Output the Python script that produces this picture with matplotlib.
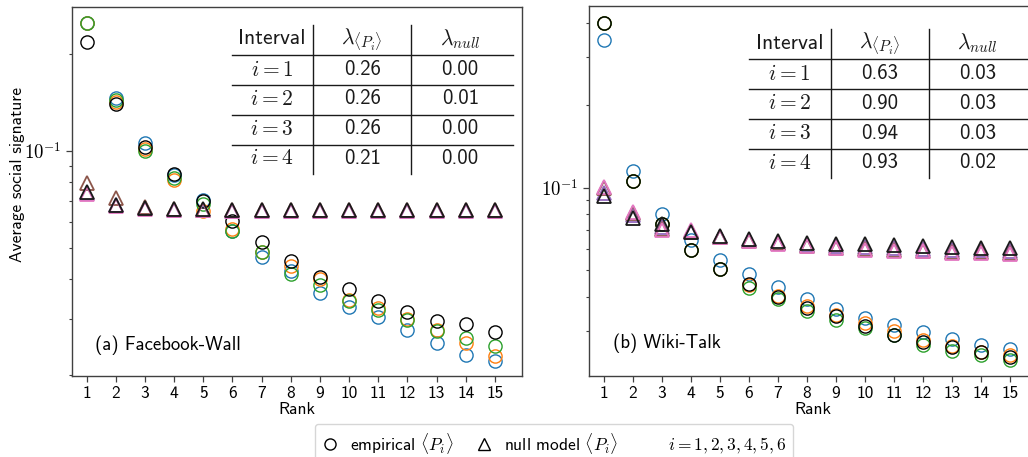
import matplotlib
matplotlib.use("Agg")
import matplotlib.pyplot as plt
from matplotlib.lines import Line2D
from matplotlib.ticker import LogLocator, NullFormatter, FuncFormatter
import numpy as np

plt.rcParams['font.family'] = ['cmss10', 'DejaVu Sans']
plt.rcParams['mathtext.fontset'] = 'cm'
plt.rcParams['axes.unicode_minus'] = False
plt.rcParams['axes.formatter.use_mathtext'] = True

ranks = list(range(1, 16))

# Facebook-Wall empirical <P_i>
fb_emp_1 = [0.250, 0.1458, 0.1059, 0.0839, 0.0706, 0.0564, 0.0467, 0.0424, 0.0361, 0.0327, 0.0304, 0.0277, 0.0253, 0.0232, 0.0222]
fb_emp_2 = [0.250, 0.1423, 0.1014, 0.0810, 0.0648, 0.0572, 0.0484, 0.0439, 0.0399, 0.0344, 0.0324, 0.0300, 0.0277, 0.0252, 0.0229]
fb_emp_3 = [0.250, 0.1440, 0.0998, 0.0826, 0.0685, 0.0564, 0.0484, 0.0414, 0.0382, 0.0340, 0.0319, 0.0298, 0.0274, 0.0262, 0.0246]
fb_emp_4 = [0.219, 0.1396, 0.1029, 0.0850, 0.0697, 0.0605, 0.0519, 0.0455, 0.0406, 0.0372, 0.0342, 0.0316, 0.0296, 0.0288, 0.0273]
# Facebook-Wall null model <P_i>
fb_null_1 = [0.0740, 0.0678, 0.0663, 0.0657, 0.0655, 0.0652, 0.0652, 0.0652, 0.0652, 0.0652, 0.0652, 0.0652, 0.0652, 0.0652, 0.0652]
fb_null_2 = [0.0794, 0.0712, 0.0668, 0.0660, 0.0657, 0.0654, 0.0654, 0.0654, 0.0654, 0.0654, 0.0654, 0.0654, 0.0654, 0.0654, 0.0654]
fb_null_3 = [0.0735, 0.0674, 0.0660, 0.0655, 0.0653, 0.0650, 0.0650, 0.0650, 0.0650, 0.0650, 0.0650, 0.0650, 0.0650, 0.0650, 0.0650]
fb_null_4 = [0.0745, 0.0680, 0.0665, 0.0660, 0.0658, 0.0655, 0.0655, 0.0655, 0.0655, 0.0655, 0.0655, 0.0655, 0.0655, 0.0655, 0.0655]

# Wiki-Talk empirical <P_i>
wt_emp_1 = [0.347, 0.1152, 0.0800, 0.0648, 0.0548, 0.0487, 0.0434, 0.0394, 0.0362, 0.0335, 0.0315, 0.0298, 0.0281, 0.0268, 0.0258]
wt_emp_2 = [0.399, 0.1060, 0.0736, 0.0592, 0.0506, 0.0441, 0.0402, 0.0372, 0.0345, 0.0322, 0.0300, 0.0279, 0.0264, 0.0253, 0.0246]
wt_emp_3 = [0.400, 0.1060, 0.0736, 0.0592, 0.0506, 0.0432, 0.0394, 0.0357, 0.0331, 0.0308, 0.0291, 0.0268, 0.0255, 0.0245, 0.0235]
wt_emp_4 = [0.399, 0.1060, 0.0736, 0.0592, 0.0506, 0.0448, 0.0399, 0.0365, 0.0340, 0.0314, 0.0291, 0.0274, 0.0262, 0.0253, 0.0242]
# Wiki-Talk null model <P_i>
wt_null_1 = [0.0960, 0.0795, 0.0720, 0.0693, 0.0663, 0.0646, 0.0632, 0.0621, 0.0614, 0.0609, 0.0604, 0.0600, 0.0594, 0.0592, 0.0590]
wt_null_2 = [0.1000, 0.0810, 0.0708, 0.0697, 0.0661, 0.0642, 0.0627, 0.0614, 0.0606, 0.0599, 0.0594, 0.0590, 0.0583, 0.0582, 0.0578]
wt_null_3 = [0.1010, 0.0816, 0.0705, 0.0700, 0.0660, 0.0640, 0.0625, 0.0612, 0.0604, 0.0596, 0.0591, 0.0587, 0.0580, 0.0580, 0.0575]
wt_null_4 = [0.0933, 0.0778, 0.0738, 0.0691, 0.0667, 0.0652, 0.0639, 0.0630, 0.0625, 0.0622, 0.0617, 0.0613, 0.0608, 0.0604, 0.0604]

# Tables
intervals = ["$i=1$", "$i=2$", "$i=3$", "$i=4$"]
fb_lambda_emp = ["0.26", "0.26", "0.26", "0.21"]
fb_lambda_null = ["0.00", "0.01", "0.00", "0.00"]
wt_lambda_emp = ["0.63", "0.90", "0.94", "0.93"]
wt_lambda_null = ["0.03", "0.03", "0.03", "0.02"]

emp_colors = ['#1f77b4', '#ff7f0e', '#2ca02c', '#000000']
null_colors = ['#9467bd', '#8c564b', '#e377c2', '#1a1a1a']

W, H = 1028, 457
fig = plt.figure(figsize=(W / 100, H / 100), dpi=100)

def fx(x):
    return x / W

def fy(y):
    return 1 - y / H

ax1 = fig.add_axes([fx(72), fy(376), fx(522) - fx(72), fy(7) - fy(376)])
ax2 = fig.add_axes([fx(589), fy(376), fx(1037) - fx(589), fy(6) - fy(376)])

def sci(v, pos):
    e = int(round(np.log10(v)))
    return r'$10^{%d}$' % e

def draw(ax, emps, nulls, ylim, label, lx, ly):
    for vals, c in zip(emps, emp_colors):
        ax.plot(ranks, vals, linestyle='none', marker='o', ms=9.5, mfc='none',
                mec=c, mew=1.0)
    for vals, c in zip(nulls, null_colors):
        ax.plot(ranks, vals, linestyle='none', marker='^', ms=10, mfc='none',
                mec=c, mew=1.3)
    ax.set_yscale('log')
    ax.set_ylim(*ylim)
    ax.set_xlim(0.5, 15.93)
    ax.set_xticks(ranks)
    ax.set_xticklabels([str(r) for r in ranks])
    ax.yaxis.set_major_locator(LogLocator(base=10))
    ax.yaxis.set_major_formatter(FuncFormatter(sci))
    ax.yaxis.set_minor_locator(LogLocator(base=10, subs=np.arange(2, 10)))
    ax.yaxis.set_minor_formatter(NullFormatter())
    ax.tick_params(axis='both', which='major', labelsize=12.5, color='0.25',
                   length=4, width=0.9)
    ax.tick_params(axis='y', which='major', labelsize=13.5)
    ax.tick_params(axis='y', which='minor', color='0.25', length=2.5, width=0.8)
    ax.tick_params(axis='x', pad=3)
    for s in ax.spines.values():
        s.set_color('0.25')
        s.set_linewidth(1.0)
    ax.set_xlabel('Rank', fontsize=12.5, labelpad=1)
    ax.text(lx, ly, label, transform=ax.transAxes, fontsize=13.5,
            ha='left', va='center')

draw(ax1, [fb_emp_1, fb_emp_2, fb_emp_3, fb_emp_4],
     [fb_null_1, fb_null_2, fb_null_3, fb_null_4], (0.0199, 0.281),
     '(a) Facebook-Wall', (95 - 72) / 450, (376 - 345) / 369)
draw(ax2, [wt_emp_1, wt_emp_2, wt_emp_3, wt_emp_4],
     [wt_null_1, wt_null_2, wt_null_3, wt_null_4], (0.0206, 0.461),
     '(b) Wiki-Talk', (613 - 589) / 448, (376 - 343) / 370)

fig.text(fx(18), fy(175), 'Average social signature', rotation=90,
         ha='center', va='center', fontsize=12.5)

def table(L, T, col1, col2):
    # L: left pixel of table, T: top pixel of vertical lines
    rows_y = [T + 14, T + 44.5, T + 74, T + 104, T + 133.5]
    hlines = [T + 30, T + 59.5, T + 89.5, T + 119.5]
    cx = [L + 40.5, L + 130.5, L + 228.5]
    for y in hlines:
        fig.add_artist(Line2D([fx(L), fx(L + 281)], [fy(y), fy(y)],
                              color='0.1', lw=1.0))
    for x in [L + 81.6, L + 179.7]:
        fig.add_artist(Line2D([fx(x), fx(x)], [fy(T), fy(T + 148.5)],
                              color='0.1', lw=1.0))
    header = ['Interval', r'$\lambda_{\langle P_i\rangle}$', r'$\lambda_{null}$']
    for x, t in zip(cx, header):
        fig.text(fx(x), fy(rows_y[0]), t, ha='center', va='center', fontsize=15.5,
                 color='0.1')
    for k in range(4):
        y = fy(rows_y[k + 1])
        fig.text(fx(cx[0]), y, intervals[k], ha='center', va='center', fontsize=15.5,
                 color='0.1')
        fig.text(fx(cx[1]), y, col1[k], ha='center', va='center', fontsize=15,
                 color='0.1')
        fig.text(fx(cx[2]), y, col2[k], ha='center', va='center', fontsize=15,
                 color='0.1')

table(231.7, 25, fb_lambda_emp, fb_lambda_null)
table(749, 29.3, wt_lambda_emp, wt_lambda_null)

handles = [
    Line2D([], [], linestyle='none', marker='o', ms=8, mfc='none', mec='k', mew=1.0),
    Line2D([], [], linestyle='none', marker='^', ms=8, mfc='none', mec='k', mew=1.0),
    Line2D([], [], linestyle='none', marker=None),
]
labels = [r'empirical $\langle P_i\rangle$', r'null model $\langle P_i\rangle$',
          r'$i=1,2,3,4,5,6$']
fig.legend(handles, labels, loc='upper center', bbox_to_anchor=(fx(554), fy(424)),
           ncol=3, fontsize=12.5, frameon=True, fancybox=True, edgecolor='0.8',
           handlelength=1.0, handletextpad=0.6, columnspacing=1.3,
           borderpad=0.4, borderaxespad=0.0)

fig.savefig('out.png', dpi=100)
